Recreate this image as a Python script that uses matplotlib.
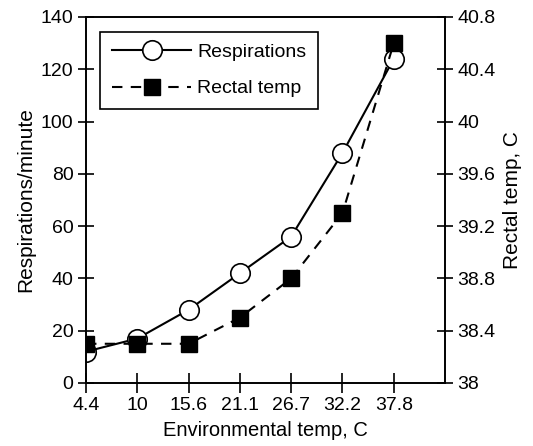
import matplotlib
matplotlib.use("Agg")
import matplotlib.pyplot as plt
import numpy as np

plt.rcParams['font.family'] = ['Liberation Sans', 'DejaVu Sans']

env_temp = ["4.4", "10", "15.6", "21.1", "26.7", "32.2", "37.8"]
respirations = [12, 17, 28, 42, 56, 88, 124]
rectal_temp = [38.3, 38.3, 38.3, 38.5, 38.8, 39.3, 40.6]

fs = 14
lfs = 15
fig = plt.figure(figsize=(5.33, 4.46), dpi=100)
ax = fig.add_axes([0.1614, 0.1413, 0.835 - 0.1614, 0.9619 - 0.1413])
ax2 = ax.twinx()

x = np.arange(len(env_temp))
l1, = ax.plot(x, respirations, '-', color='black', lw=1.5, marker='o', ms=14,
              mfc='white', mec='black', mew=1.2, label='Respirations')
l2, = ax2.plot(x, rectal_temp, '--', color='black', lw=1.5, marker='s', ms=12,
               mfc='black', mec='black', dashes=(5, 4), label='Rectal temp')

ax.set_xlim(0, 7)
ax.set_ylim(0, 140)
ax2.set_ylim(38, 40.8)
ax.set_xticks(x)
ax.set_xticklabels(env_temp)
ax.set_yticks(np.arange(0, 141, 20))
ax2.set_yticks([38, 38.4, 38.8, 39.2, 39.6, 40, 40.4, 40.8])
ax2.set_yticklabels(["38", "38.4", "38.8", "39.2", "39.6", "40", "40.4", "40.8"])

for a in (ax, ax2):
    a.tick_params(direction='inout', length=12, width=1.2, labelsize=fs, pad=3, color='black')
    for s in a.spines.values():
        s.set_linewidth(1.2)
ax.tick_params(axis='x', length=14)

ax.set_xlabel("Environmental temp, C", fontsize=14.5, labelpad=5)
ax.set_ylabel("Respirations/minute", fontsize=lfs, labelpad=4)
ax2.set_ylabel("Rectal temp, C", fontsize=lfs, labelpad=5)

leg = ax2.legend([l1, l2], ['Respirations', 'Rectal temp'], loc='upper left',
                 bbox_to_anchor=(0.039, 0.959), borderaxespad=0, fontsize=fs,
                 handlelength=4.1, labelspacing=0.95, fancybox=False,
                 edgecolor='black', framealpha=1, borderpad=0.6, handletextpad=0.3)
leg.get_frame().set_linewidth(1.2)

fig.savefig("out.png", dpi=100)
